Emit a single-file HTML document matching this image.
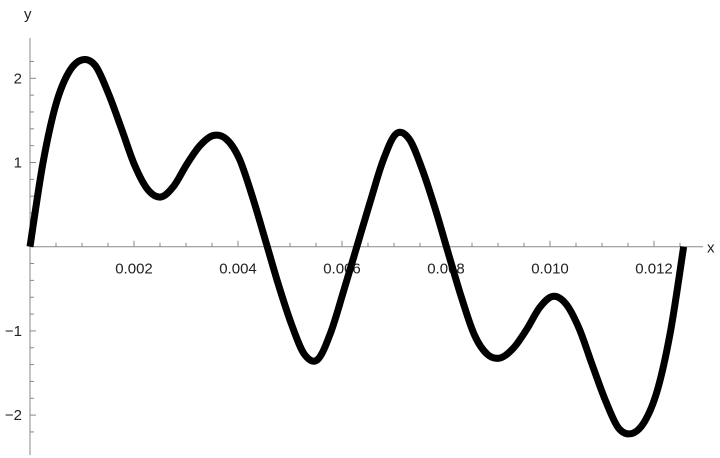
<!DOCTYPE html>
<html><head><meta charset="utf-8"><style>
body{margin:0;background:#fff}
svg{display:block}
text{font-family:"Liberation Sans",sans-serif;font-size:15px;fill:#222}
</style></head><body>
<svg id="chart" width="720" height="458"></svg>
<script>
const tValues=[0,0.000251,0.000503,0.000754,0.001006,0.001257,0.001508,0.00176,0.002011,0.002263,0.002514,0.002765,0.003017,0.003268,0.00352,0.003771,0.004022,0.004274,0.004525,0.004777,0.005028,0.005279,0.005531,0.005782,0.006034,0.006285,
0.006536,0.006788,0.007039,0.007291,0.007542,0.007793,0.008045,0.008296,0.008548,0.008799,0.00905,0.009302,0.009553,0.009805,0.010056,0.010307,0.010559,0.01081,0.011062,0.011313,0.011564,0.011816,0.012067,0.012319,0.01257];
const yValues=[0,1.0,1.7,2.08,2.22,2.15,1.82,1.4,0.97,0.68,0.59,0.72,0.98,1.2,1.32,1.28,1.05,0.6,0.08,-0.45,-0.92,-1.28,-1.34,-1.02,-0.52,0,
0.52,1.02,1.34,1.28,0.92,0.45,-0.08,-0.6,-1.05,-1.28,-1.32,-1.2,-0.98,-0.72,-0.59,-0.68,-0.97,-1.4,-1.82,-2.15,-2.22,-2.08,-1.7,-1.0,0];
const xTicks=[0.002,0.004,0.006,0.008,0.010,0.012];
const xTickLabels=["0.002","0.004","0.006","0.008","0.010","0.012"];
const yTicks=[-2,-1,1,2];
const yTickLabels=["\u22122","\u22121","1","2"];
const NS="http://www.w3.org/2000/svg";
const svg=document.getElementById('chart');
const X=t=>30+t*52000;
const Y=v=>246.7-v*84.2;
function mk(tag,attrs){const e=document.createElementNS(NS,tag);for(const k in attrs)e.setAttribute(k,attrs[k]);svg.appendChild(e);return e;}
let a=mk('line',{x1:30,y1:Y(0),x2:703,y2:Y(0),stroke:'#888','stroke-width':1});


a=mk('line',{x1:30,y1:38,x2:30,y2:455,stroke:'#888','stroke-width':1});


for(let i=1;i<=25;i++){const t=i*0.0005;const major=i%4===0;
 const l=mk('line',{x1:X(t),x2:X(t),y1:Y(0),y2:Y(0)-(major?6:4),stroke:'#888'});
 
 }
for(let i=-11;i<=11;i++){if(i===0)continue;const v=i*0.2;const major=i%5===0;
 const l=mk('line',{x1:30,x2:30+(major?6:4),y1:Y(v),y2:Y(v),stroke:'#888'});
 
 }
xTicks.forEach((t,i)=>{const e=mk('text',{x:X(t),y:Y(0)+27,'text-anchor':'middle'});e.textContent=xTickLabels[i];
 
 });
yTicks.forEach((v,i)=>{const e=mk('text',{x:22,y:Y(v)+5,'text-anchor':'end'});e.textContent=yTickLabels[i];
 
 });
let e=mk('text',{x:707,y:Y(0)+6});e.textContent='x';


e=mk('text',{x:24,y:19});e.textContent='y';


const P=tValues.map((t,i)=>[X(t),Y(yValues[i])]);
let d=`M${P[0][0]},${P[0][1]}`;
for(let i=0;i<P.length-1;i++){const p0=P[Math.max(0,i-1)],p1=P[i],p2=P[i+1],p3=P[Math.min(P.length-1,i+2)];
 d+=` C${p1[0]+(p2[0]-p0[0])/6},${p1[1]+(p2[1]-p0[1])/6} ${p2[0]-(p3[0]-p1[0])/6},${p2[1]-(p3[1]-p1[1])/6} ${p2[0]},${p2[1]}`;}
const path=mk('path',{d:d,fill:'none',stroke:'#000','stroke-width':7,'stroke-linejoin':'round'});


</script>
</body></html>
